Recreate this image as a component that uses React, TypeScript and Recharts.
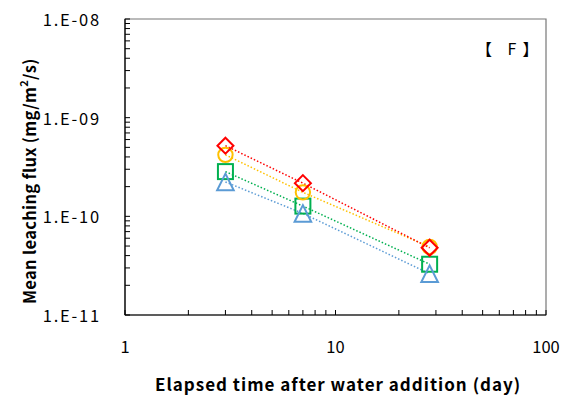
import React from 'react';
import { LineChart, Line, XAxis, YAxis, ReferenceArea } from 'recharts';

const days = [3, 7, 28];
const seriesRed = [5.2e-10, 2.17e-10, 4.8e-11];
const seriesOrange = [4.2e-10, 1.75e-10, 4.9e-11];
const seriesGreen = [2.84e-10, 1.27e-10, 3.27e-11];
const seriesBlue = [2.23e-10, 1.07e-10, 2.62e-11];

const xMajorTicks = [1, 10, 100];
const xMajorLabels = ['1', '10', '100'];
const yMajorTicks = [1e-11, 1e-10, 1e-9, 1e-8];
const yMajorLabels = ['1.E-11', '1.E-10', '1.E-09', '1.E-08'];
const mantissas = [1, 2, 3, 4, 5, 6, 7, 8, 9];

const xTitle = 'Elapsed time after water addition (day)';
const yTitleMain = 'Mean leaching flux (mg/m';
const yTitleSup = '2';
const yTitleEnd = '/s)';
const panelTag = '【 F】';

const data = days.map((d, i) => ({
  day: d,
  red: seriesRed[i],
  orange: seriesOrange[i],
  green: seriesGreen[i],
  blue: seriesBlue[i],
}));

const buildTicks = (majors: number[]) => {
  const out: number[] = [];
  majors.forEach((m, i) => {
    if (i === majors.length - 1) {
      out.push(m);
    } else {
      mantissas.forEach((k) => out.push(k * m));
    }
  });
  return out;
};
const xTicks = buildTicks(xMajorTicks);
const yTicks = buildTicks(yMajorTicks);

const majorIndex = (v: number, majors: number[]) =>
  majors.findIndex((m) => Math.abs(Math.log10(v) - Math.log10(m)) < 1e-6);

const FONT = '"Noto Sans CJK JP", "Noto Sans", sans-serif';

const XTick = (props: any) => {
  const { x, y, payload } = props;
  const idx = majorIndex(payload.value, xMajorTicks);
  return (
    <g>
      <line x1={x} y1={y} x2={x} y2={y - 5} stroke="#000" strokeWidth={1} />
      {idx >= 0 && (
        <text x={x} y={y + 31} textAnchor="middle" dominantBaseline="central" fontSize={16.5} fill="#000" fontFamily={FONT}>
          {xMajorLabels[idx]}
        </text>
      )}
    </g>
  );
};

const YTick = (props: any) => {
  const { x, y, payload } = props;
  const idx = majorIndex(payload.value, yMajorTicks);
  return (
    <g>
      <line x1={x} y1={y} x2={x + 5} y2={y} stroke="#000" strokeWidth={1} />
      {idx >= 0 && (
        <text x={x - 24} y={y} textAnchor="end" dominantBaseline="central" fontSize={16.5} letterSpacing={1.8} fill="#000" fontFamily={FONT}>
          {yMajorLabels[idx]}
        </text>
      )}
    </g>
  );
};

const Diamond = (props: any) => {
  const { cx, cy } = props;
  if (cx == null || cy == null) return null;
  const r = 8;
  return (
    <path d={`M${cx},${cy - r}L${cx + r},${cy}L${cx},${cy + r}L${cx - r},${cy}Z`} fill="none" stroke="#FF0000" strokeWidth={2} />
  );
};
const Circle = (props: any) => {
  const { cx, cy } = props;
  if (cx == null || cy == null) return null;
  return <circle cx={cx} cy={cy} r={7.2} fill="none" stroke="#FFC000" strokeWidth={2} />;
};
const Square = (props: any) => {
  const { cx, cy } = props;
  if (cx == null || cy == null) return null;
  return <rect x={cx - 7.5} y={cy - 7.5} width={15} height={15} fill="none" stroke="#00B050" strokeWidth={2} />;
};
const Triangle = (props: any) => {
  const { cx, cy } = props;
  if (cx == null || cy == null) return null;
  const r = 8.3;
  return (
    <path d={`M${cx},${cy - r}L${cx + r},${cy + r}L${cx - r},${cy + r}Z`} fill="none" stroke="#5B9BD5" strokeWidth={2} />
  );
};

export default function App() {
  return (
    <div style={{ position: 'absolute', left: 0, top: 0, width: 564, height: 397, background: '#fff', fontFamily: FONT }}>
      <LineChart width={564} height={397} data={data} margin={{ top: 19, right: 18, left: 0, bottom: 0 }}>
        <ReferenceArea x1={1} x2={100} y1={1e-11} y2={1e-8} fill="none" stroke="#777" strokeWidth={1.2} ifOverflow="visible" />
        <XAxis
          dataKey="day"
          type="number"
          scale="log"
          domain={[1, 100]}
          ticks={xTicks}
          interval={0}
          allowDataOverflow
          height={82}
          tickSize={0}
          tickMargin={0}
          tickLine={false}
          axisLine={{ stroke: '#000', strokeWidth: 1.2 }}
          tick={<XTick />}
        />
        <YAxis
          type="number"
          scale="log"
          domain={[1e-11, 1e-8]}
          ticks={yTicks}
          interval={0}
          allowDataOverflow
          width={125}
          tickSize={0}
          tickMargin={0}
          tickLine={false}
          axisLine={{ stroke: '#000', strokeWidth: 1.2 }}
          tick={<YTick />}
        />
        <Line dataKey="green" stroke="#00B050" strokeWidth={1.5} strokeDasharray="1.5 2" dot={<Square />} activeDot={false} isAnimationActive={false} />
        <Line dataKey="blue" stroke="#5B9BD5" strokeWidth={1.5} strokeDasharray="1.5 2" dot={<Triangle />} activeDot={false} isAnimationActive={false} />
        <Line dataKey="orange" stroke="#FFC000" strokeWidth={1.5} strokeDasharray="1.5 2" dot={<Circle />} activeDot={false} isAnimationActive={false} />
        <Line dataKey="red" stroke="#FF0000" strokeWidth={1.5} strokeDasharray="1.5 2" dot={<Diamond />} activeDot={false} isAnimationActive={false} />
        <text x={155} y={383} textAnchor="start" dominantBaseline="central" fontSize={17} letterSpacing={1} fontWeight="bold" fill="#000" fontFamily={FONT}>
          {xTitle}
        </text>
        <text transform="translate(29,304) rotate(-90)" textAnchor="start" dominantBaseline="central" fontSize={16.5} letterSpacing={0.3} fontWeight="bold" fill="#000" fontFamily={FONT}>
          {yTitleMain}
          <tspan dy={-6} fontSize={11}>{yTitleSup}</tspan>
          <tspan dy={6}>{yTitleEnd}</tspan>
        </text>
        <text x={476} y={48} textAnchor="start" dominantBaseline="central" fontSize={16} letterSpacing={6} fill="#000" fontFamily={FONT} style={{ whiteSpace: 'pre' }}>
          {panelTag}
        </text>
      </LineChart>
    </div>
  );
}
